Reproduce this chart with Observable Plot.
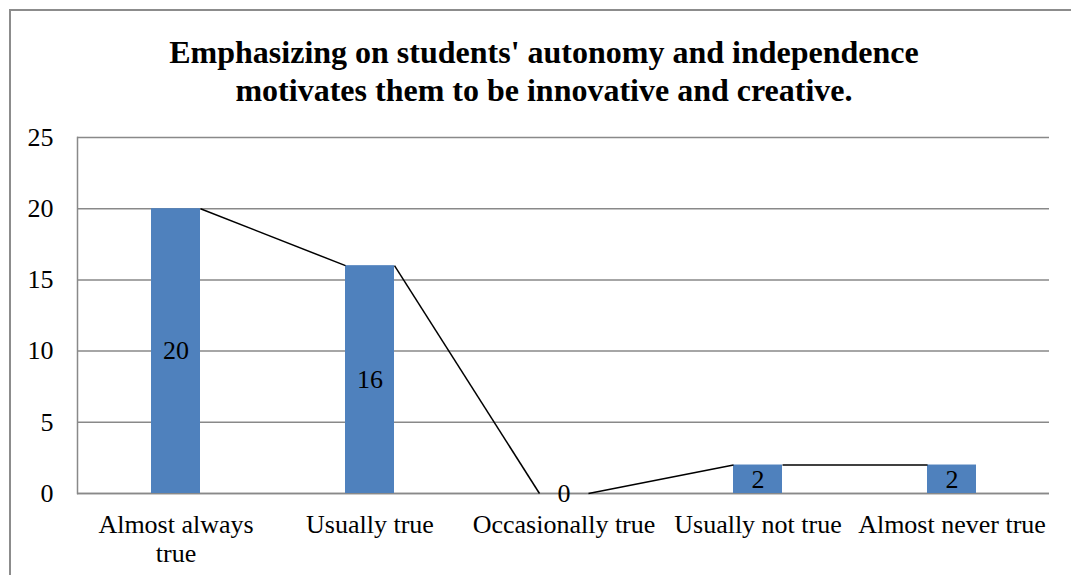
<!DOCTYPE html>
<html>
<head>
<meta charset="utf-8">
<script src="https://cdn.jsdelivr.net/npm/d3@7"></script>
<script src="https://cdn.jsdelivr.net/npm/@observablehq/plot@0.6"></script>
<style>
  html, body { margin: 0; padding: 0; background: #fff; overflow: hidden; }
  #wrap { position: relative; width: 1071px; height: 575px; overflow: hidden; }
  #border { position: absolute; left: 9px; top: 9px; width: 1100px; height: 620px; border: 2px solid #8c8c8c; box-sizing: border-box; }
  #title { position: absolute; left: 0; top: 33px; width: 1088px; text-align: center;
           font-family: "Liberation Serif", "Times New Roman", serif; font-weight: bold; font-size: 32px; line-height: 38px; color: #000; }
  #chart { position: absolute; left: 0; top: 0; }
</style>
</head>
<body>
<div id="wrap">
  <div id="border"></div>
  <div id="chart"></div>
  <div id="title">Emphasizing on students' autonomy and independence<br>motivates them to be innovative and creative.</div>
</div>
<script>
const categories = ["Almost always true", "Usually true", "Occasionally true", "Usually not true", "Almost never true"];
const values = [20, 16, 0, 2, 2];
const tickLabels = ["Almost always\ntrue", "Usually true", "Occasionally true", "Usually not true", "Almost never true"];
const yTicks = [0, 5, 10, 15, 20, 25];

const bars = categories.map((c, i) => ({category: c, value: values[i]}));
const links = categories.slice(0, -1).map((c, i) => ({from: c, to: categories[i + 1], v1: values[i], v2: values[i + 1]}));

const gray = "#898989";

const plot = Plot.plot({
  width: 1071,
  height: 575,
  marginTop: 137,
  marginBottom: 82,
  marginLeft: 77,
  marginRight: 22,
  style: {fontFamily: "'Liberation Serif', 'Times New Roman', serif", fontSize: "26px", color: "#000", background: "transparent"},
  x: {type: "band", domain: categories, paddingInner: 0.75, paddingOuter: 0.375, label: null},
  y: {domain: [0, 25], label: null},
  marks: [
    Plot.gridY(yTicks, {stroke: gray, strokeOpacity: 1, strokeWidth: 1.5}),
    Plot.frame({anchor: "left", stroke: gray, strokeWidth: 1.5}),
    Plot.ruleY([0], {stroke: gray, strokeWidth: 1.5}),
    Plot.barY(bars, {x: "category", y: "value", fill: "#4F81BD"}),
    Plot.link(links, {
      x1: "from", x2: "to", y1: "v1", y2: "v2", stroke: "#000", strokeWidth: 1.5,
      render(index, scales, vals, dimensions, context, next) {
        const bw = scales.x.bandwidth();
        const x1 = Array.from(vals.x1, v => v + bw / 2);
        const x2 = Array.from(vals.x2, v => v - bw / 2);
        return next(index, scales, {...vals, x1, x2}, dimensions, context);
      }
    }),
    Plot.text(bars, {x: "category", y: d => d.value / 2, text: d => String(d.value), fontSize: 26, fill: "#000"}),
    Plot.axisY(yTicks, {tickSize: 0, tickPadding: 24, fontSize: 26, label: null}),
    Plot.axisX({tickSize: 0, tickPadding: 19, fontSize: 26, lineHeight: 1.12, label: null,
      tickFormat: d => tickLabels[categories.indexOf(d)]})
  ]
});
document.getElementById("chart").appendChild(plot);
</script>
</body>
</html>
